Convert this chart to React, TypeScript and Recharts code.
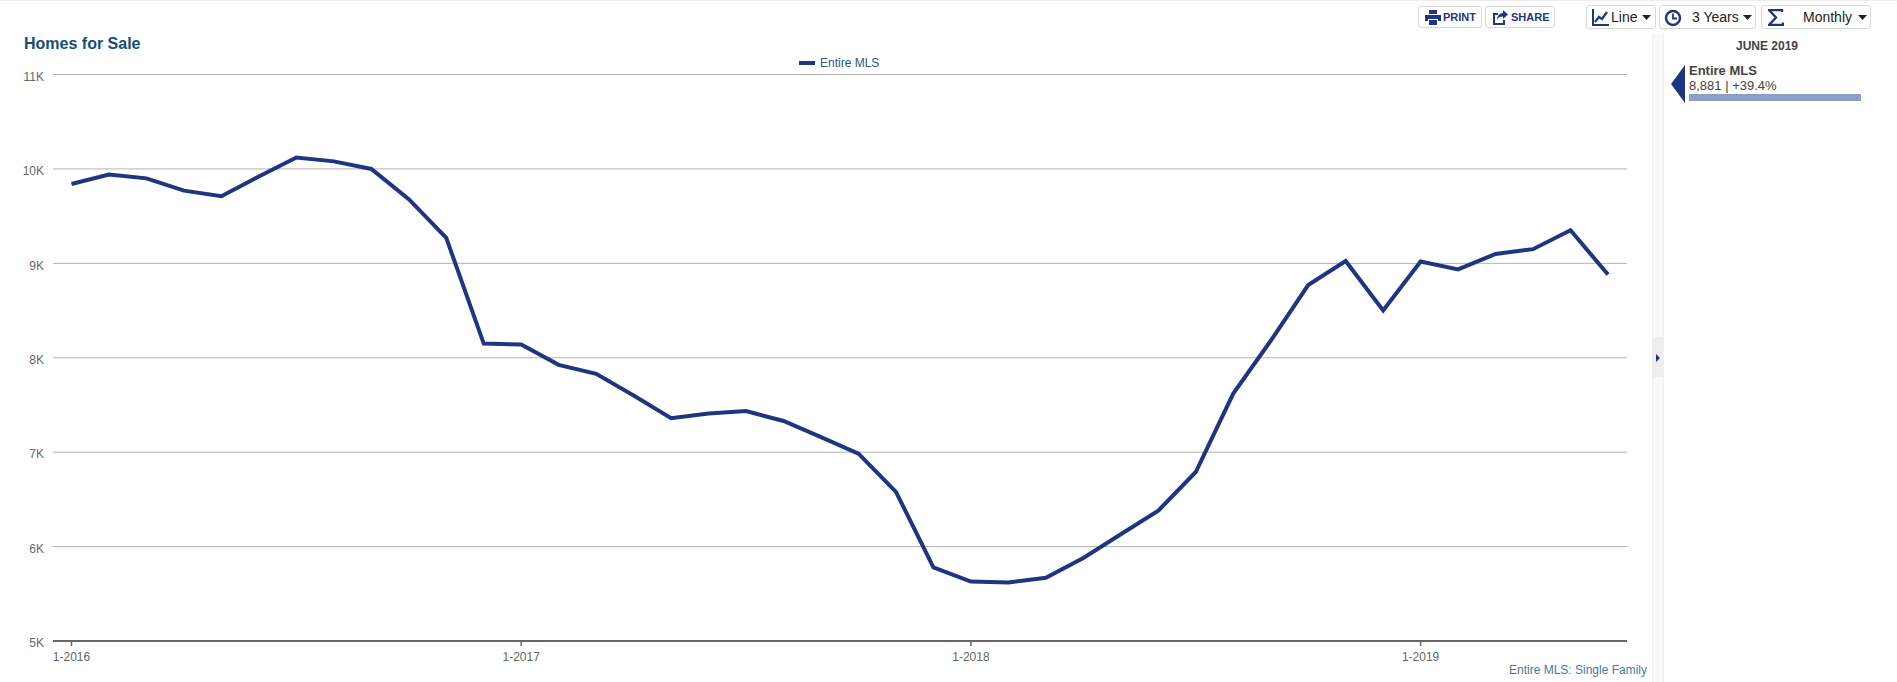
import React from "react";
import { LineChart, Line, XAxis, YAxis, CartesianGrid, Legend } from "recharts";

const months = [
  "1-2016","2-2016","3-2016","4-2016","5-2016","6-2016","7-2016","8-2016","9-2016","10-2016","11-2016","12-2016",
  "1-2017","2-2017","3-2017","4-2017","5-2017","6-2017","7-2017","8-2017","9-2017","10-2017","11-2017","12-2017",
  "1-2018","2-2018","3-2018","4-2018","5-2018","6-2018","7-2018","8-2018","9-2018","10-2018","11-2018","12-2018",
  "1-2019","2-2019","3-2019","4-2019","5-2019","6-2019",
];
const entireMls = [
  9840,9940,9900,9770,9710,9920,10120,10080,10000,9680,9270,8150,
  8140,7925,7830,7600,7360,7410,7435,7330,7160,6985,6580,5780,
  5630,5620,5670,5880,6130,6380,6790,7620,8180,8770,9025,8500,
  9020,8935,9100,9150,9350,8881,
];
const xTicks = ["1-2016","1-2017","1-2018","1-2019"];
const yTicks = [5000,6000,7000,8000,9000,10000,11000];
const seriesName = "Entire MLS";

const rows = months.map((month, i) => ({ month, value: entireMls[i] }));

const FONT = '"Liberation Sans", Arial, sans-serif';
const NAVY = "#1f3582";

const abs = (left: number, top: number, width: number, height: number, extra: React.CSSProperties = {}): React.CSSProperties => ({
  position: "absolute", left, top, width, height, boxSizing: "border-box", ...extra,
});

function Caret({ left, top }: { left: number; top: number }) {
  return <svg style={abs(left, top, 9, 5)} viewBox="0 0 9 5"><path d="M0 0H9L4.5 5Z" fill="#222" /></svg>;
}

function Btn({ left, top, width, height, children }: any) {
  return (
    <div style={abs(left, top, width, height, { border: "1px solid #d8d8d8", borderRadius: 3, background: "#fff" })}>
      {children}
    </div>
  );
}

function LegendContent() {
  return (
    <div style={{ display: "flex", alignItems: "center", fontFamily: FONT, fontSize: 12, color: "#2b5a7a", height: 14 }}>
      <span style={{ display: "inline-block", width: 16, height: 4, background: NAVY, marginRight: 5 }} />
      {seriesName}
    </div>
  );
}

export default function App() {
  return (
    <div style={abs(0, 0, 1897, 682, { fontFamily: FONT, overflow: "hidden", background: "#fff" })}>
      <div style={abs(0, 0, 1897, 1, { background: "#eeeeee" })} />
      <div style={abs(24, 35, 200, 18, { fontSize: 16, fontWeight: 700, color: "#154f72", lineHeight: "18px" })}>Homes for Sale</div>

      <LineChart
        width={1897}
        height={682}
        data={rows}
        margin={{ top: 74.5, right: 270, bottom: 0, left: 0 }}
        style={{ position: "absolute", left: 0, top: 0 }}
      >
        <CartesianGrid horizontal vertical={false} stroke="#b3b3b3" strokeWidth={1} />
        <XAxis
          dataKey="month"
          height={41}
          ticks={xTicks}
          interval={0}
          padding={{ left: 18.5, right: 19 }}
          axisLine={{ stroke: "#666666", strokeWidth: 2 }}
          tickLine={{ stroke: "#666666", strokeWidth: 1.5 }}
          tickSize={5}
          tickMargin={6}
          tick={{ fontSize: 12, fill: "#666666", fontFamily: FONT }}
        />
        <YAxis
          width={53}
          domain={[5000, 11000]}
          ticks={yTicks}
          axisLine={false}
          tickLine={false}
          tickSize={0}
          tickMargin={9}
          tickFormatter={(v: number) => `${v / 1000}K`}
          tick={{ fontSize: 12, fill: "#666666", fontFamily: FONT, dy: 2 }}
        />
        <Legend
          layout="horizontal"
          verticalAlign="middle"
          align="center"
          content={<LegendContent />}
          wrapperStyle={{ position: "absolute", left: 799, top: 56, width: 120, height: 14, margin: 0 }}
        />
        <Line
          type="linear"
          dataKey="value"
          name={seriesName}
          stroke={NAVY}
          strokeWidth={4}
          dot={false}
          activeDot={false}
          isAnimationActive={false}
        />
      </LineChart>

      <div style={abs(1451, 663, 196, 15, { fontSize: 12, color: "#3f7ba0", textAlign: "right", lineHeight: "15px" })}>Entire MLS: Single Family</div>

      {/* side strip */}
      <div style={abs(1652, 34, 12, 648, { background: "#f8f8f8", borderLeft: "1px solid #f0f0f0", borderRight: "1px solid #f0f0f0" })} />
      <div style={abs(1652, 337, 12, 40, { background: "#eeeeee" })} />
      <svg style={abs(1655, 353, 6, 10)} viewBox="0 0 6 10"><path d="M1 1L5 5L1 9Z" fill={NAVY} /></svg>

      {/* side panel */}
      <div style={abs(1667, 38, 200, 16, { fontSize: 12, fontWeight: 700, color: "#444", textAlign: "center", lineHeight: "16px" })}>JUNE 2019</div>
      <svg style={abs(1671, 65, 14, 38)} viewBox="0 0 14 38"><path d="M14 0V38L0 19Z" fill={NAVY} /></svg>
      <div style={abs(1689, 63, 170, 16, { fontSize: 13, fontWeight: 700, color: "#444", lineHeight: "16px" })}>Entire MLS</div>
      <div style={abs(1689, 78, 170, 16, { fontSize: 13, color: "#444", lineHeight: "16px" })}>8,881 | +39.4%</div>
      <div style={abs(1689, 94, 172, 7, { background: "#8f9cc3" })} />

      {/* toolbar */}
      <Btn left={1418} top={6} width={64} height={22}>
        <svg style={abs(6, 3, 16, 15)} viewBox="0 0 16 15"><path d="M4 0H12V4H4ZM0 5H16V11H13V9H3V11H0ZM4 10H12V15H4Z" fill={NAVY} /></svg>
        <span style={abs(24, 3, 40, 15, { fontSize: 11, fontWeight: 700, color: NAVY, lineHeight: "15px" })}>PRINT</span>
      </Btn>
      <Btn left={1485} top={6} width={70} height={22}>
        <svg style={abs(6, 3, 16, 15)} viewBox="0 0 16 15"><path d="M11 0L16 4.5L11 9V6.5C8 6.5 6 7.5 5 10C5 6 7.5 3 11 3ZM1 3H6V5H3V13H11V10H13V15H1Z" fill={NAVY} /></svg>
        <span style={abs(25, 3, 44, 15, { fontSize: 11, fontWeight: 700, color: NAVY, lineHeight: "15px" })}>SHARE</span>
      </Btn>
      <Btn left={1586} top={5} width={70} height={24}>
        <svg style={abs(5, 3, 17, 17)} viewBox="0 0 17 17"><path d="M1 0V16H17" fill="none" stroke={NAVY} strokeWidth="2" /><path d="M3 13L7 8L10 10L15 3" fill="none" stroke={NAVY} strokeWidth="2.2" /></svg>
        <span style={abs(24, 3, 30, 17, { fontSize: 14, color: "#222", lineHeight: "17px" })}>Line</span>
        <Caret left={55} top={9} />
      </Btn>
      <Btn left={1659} top={5} width={97} height={24}>
        <svg style={abs(4, 3, 18, 18)} viewBox="0 0 18 18"><circle cx="9" cy="9" r="7" fill="none" stroke={NAVY} strokeWidth="2.4" /><path d="M9 4.5V9.5H13" fill="none" stroke={NAVY} strokeWidth="1.8" /></svg>
        <span style={abs(32, 3, 50, 17, { fontSize: 14, color: "#222", lineHeight: "17px" })}>3 Years</span>
        <Caret left={83} top={9} />
      </Btn>
      <Btn left={1761} top={5} width={110} height={24}>
        <svg style={abs(6, 3, 16, 17)} viewBox="0 0 16 17"><path d="M14 3V1H1L8 8.5L1 16H15V13.5" fill="none" stroke={NAVY} strokeWidth="2.4" /></svg>
        <span style={abs(41, 3, 55, 17, { fontSize: 14, color: "#222", lineHeight: "17px" })}>Monthly</span>
        <Caret left={96} top={9} />
      </Btn>
    </div>
  );
}
